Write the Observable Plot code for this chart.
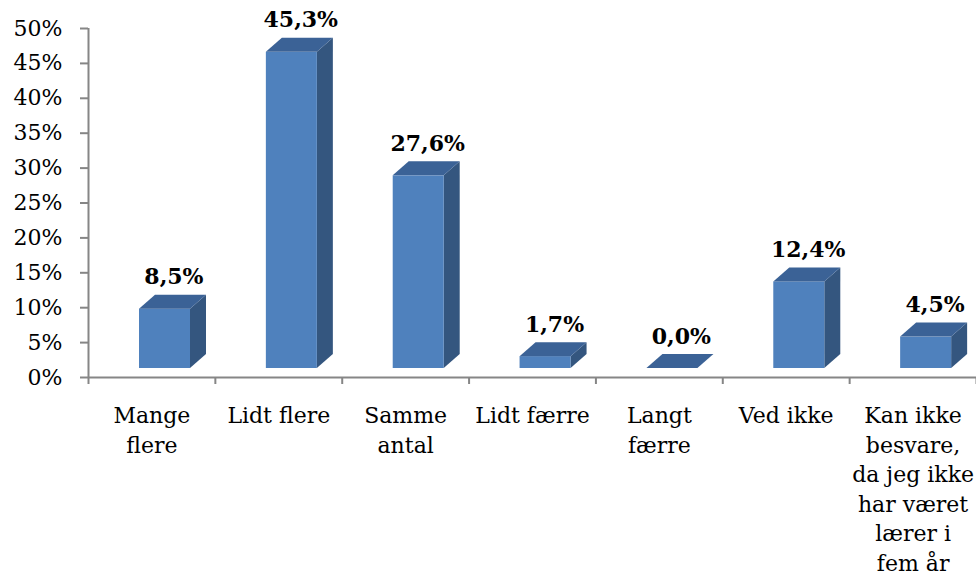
<!DOCTYPE html>
<html><head><meta charset="utf-8">
<script src="https://cdn.jsdelivr.net/npm/d3@7"></script>
<script src="https://cdn.jsdelivr.net/npm/@observablehq/plot@0.6"></script>
<style>html,body{margin:0;padding:0;background:#fff}</style>
</head><body><div id="chart"></div>
<script>
const categories = ["Mange\nflere", "Lidt flere", "Samme\nantal", "Lidt færre", "Langt\nfærre", "Ved ikke", "Kan ikke\nbesvare,\nda jeg ikke\nhar været\nlærer i\nfem år"];
const values = [0.085, 0.453, 0.276, 0.017, 0.000, 0.124, 0.045];
const valueLabels = ["8,5%", "45,3%", "27,6%", "1,7%", "0,0%", "12,4%", "4,5%"];
const yTicks = [0, 0.05, 0.10, 0.15, 0.20, 0.25, 0.30, 0.35, 0.40, 0.45, 0.50];
const yTickLabels = ["0%", "5%", "10%", "15%", "20%", "25%", "30%", "35%", "40%", "45%", "50%"];

const data = categories.map((c, i) => ({i, c, v: values[i], label: valueLabels[i]}));

const FRONT = "#4F81BD", TOP = "#3B6296", SIDE = "#34567F", AXIS = "#868686";
const FONT = "DejaVu Serif";
const FLOOR = 9, DX = 16, DY = 14, INL = 51, FW = 51;

const bars3d = Plot.rect(data, {
  x1: d => d.i, x2: d => d.i + 1, y1: d => 0, y2: "v",
  render(index, scales) {
    const g = d3.create("svg:g");
    for (const k of index) {
      const d = data[k];
      const x0 = scales.x(d.i) + INL, x1 = x0 + FW;
      const yb = scales.y(0) - FLOOR, yt = scales.y(d.v) - FLOOR;
      if (yb - yt > 0.1) {
        g.append("path").attr("d", `M${x1},${yb}L${x1 + DX},${yb - DY}L${x1 + DX},${yt - DY}L${x1},${yt}Z`).attr("fill", SIDE);
        g.append("rect").attr("x", x0).attr("y", yt).attr("width", FW).attr("height", yb - yt).attr("fill", FRONT);
      }
      g.append("path").attr("d", `M${x0},${yt}L${x1},${yt}L${x1 + DX},${yt - DY}L${x0 + DX},${yt - DY}Z`).attr("fill", TOP);
    }
    return g.node();
  }
});

const chart = Plot.plot({
  width: 976,
  height: 580,
  marginTop: 28,
  marginBottom: 203,
  marginLeft: 88,
  marginRight: 0,
  style: {fontFamily: FONT, background: "#fff", color: "#000"},
  x: {type: "linear", domain: [0, categories.length], label: null},
  y: {domain: [0, 0.5], label: null},
  marks: [
    Plot.axisY(yTicks, {tickFormat: d => yTickLabels[yTicks.indexOf(d)], tickSize: 8, tickPadding: 18, fontSize: 22, stroke: AXIS, strokeWidth: 2, fill: "#000", label: null}),
    Plot.axisX(d3.range(categories.length + 1), {tickFormat: () => "", tickSize: 7, stroke: AXIS, strokeWidth: 2, label: null}),
    Plot.axisX(d3.range(categories.length).map(i => i + 0.5), {tickFormat: v => categories[Math.floor(v)], tickSize: 0, tickPadding: 25, fontSize: 22, lineHeight: 1.34, fill: "#000", label: null}),
    Plot.ruleX([0], {stroke: AXIS, strokeWidth: 2}),
    Plot.ruleY([0], {stroke: AXIS, strokeWidth: 2}),
    bars3d,
    Plot.text(data, {x: d => d.i + 0.5, y: "v", text: "label", dx: 22, dy: -41, fontWeight: "bold", fontSize: 22, fill: "#000"})
  ]
});
document.getElementById("chart").appendChild(chart);
</script>
</body></html>
